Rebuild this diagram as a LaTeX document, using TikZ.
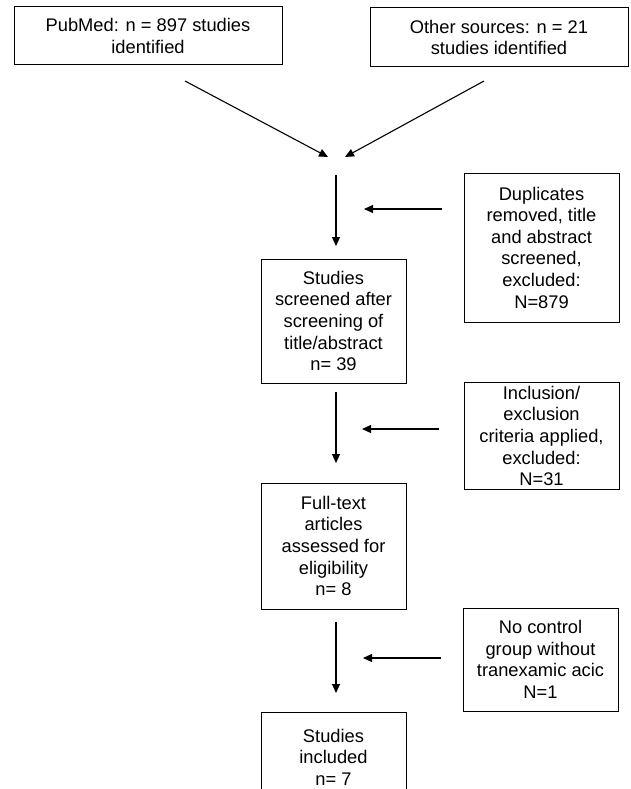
\documentclass[tikz,border=0pt]{standalone}
\usepackage{fontspec}
\setmainfont{Liberation Sans}
\usetikzlibrary{arrows.meta,positioning,calc}

\tikzset{
  flowbox/.style={draw, line width=1pt, align=center, inner sep=1pt,
    font=\fontsize{18.3}{21.6}\selectfont},
  flowarrow/.style={line width=1.1pt, -{Triangle[length=9pt,width=8pt]}}
}

\begin{document}
\begin{tikzpicture}[x=1pt, y=-1pt]
  \useasboundingbox (0,0) rectangle (630,789);
  \clip (0,0) rectangle (630,789);
  % sources
  \node[flowbox, minimum width=268pt, minimum height=58pt] (pubmed) at (148,36) {PubMed: n = 897 studies\\identified};
  \node[flowbox, minimum width=258pt, minimum height=59pt] (other) at (499,37.5) {Other sources: n = 21\\studies identified};
  % main column
  \node[flowbox, minimum width=145pt, minimum height=124pt] (screened) at (333.5,321) {Studies\\screened after\\screening of\\title/abstract\\n= 39};
  \node[flowbox, minimum width=145pt, minimum height=126pt] (fulltext) at (333.5,546) {Full-text\\articles\\assessed for\\eligibility\\n= 8};
  \node[flowbox, minimum width=145pt, minimum height=90pt] (included) at (333.5,757) {Studies\\included\\n= 7};
  % exclusions
  \node[flowbox, minimum width=155pt, minimum height=149pt] (dupl) at (541.5,247.5) {Duplicates\\removed, title\\and abstract\\screened,\\excluded:\\N=879};
  \node[flowbox, minimum width=155pt, minimum height=107pt] (crit) at (541.5,436) {Inclusion/\\exclusion\\criteria applied,\\excluded:\\N=31};
  \node[flowbox, minimum width=155pt, minimum height=103pt] (noctrl) at (540.5,659.5) {No control\\group without\\tranexamic acic\\N=1};
  % free arrow ends
  \coordinate (pmstart) at (185,81);
  \coordinate (pmtip) at (328,157);
  \coordinate (osstart) at (484,81);
  \coordinate (ostip) at (345,157);
  \coordinate (v1a) at (336,175);  \coordinate (v1b) at (336,246);
  \coordinate (v2a) at (336,392);  \coordinate (v2b) at (336,463);
  \coordinate (v3a) at (336,622);  \coordinate (v3b) at (336,693);
  \coordinate (h1a) at (442,209);  \coordinate (h1b) at (364,209);
  \coordinate (h2a) at (439,429);  \coordinate (h2b) at (362,429);
  \coordinate (h3a) at (441,658);  \coordinate (h3b) at (363,658);
  \draw[flowarrow] (pmstart) -- (pmtip);
  \draw[flowarrow] (osstart) -- (ostip);
  \draw[flowarrow] (v1a) -- (v1b);
  \draw[flowarrow] (v2a) -- (v2b);
  \draw[flowarrow] (v3a) -- (v3b);
  \draw[flowarrow] (h1a) -- (h1b);
  \draw[flowarrow] (h2a) -- (h2b);
  \draw[flowarrow] (h3a) -- (h3b);
\end{tikzpicture}
\end{document}
